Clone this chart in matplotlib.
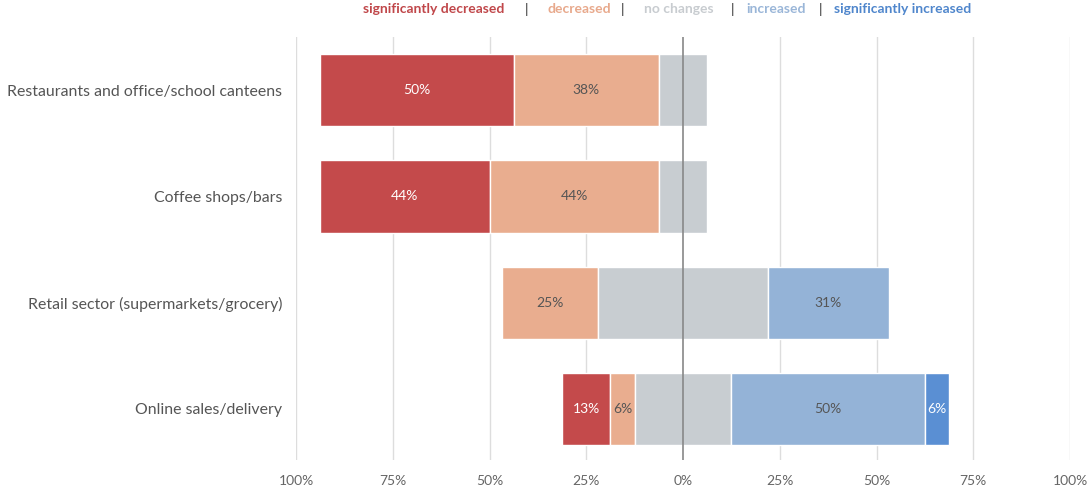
import matplotlib
matplotlib.use("Agg")
import matplotlib.pyplot as plt
import numpy as np

categories = ["Restaurants and office/school canteens", "Coffee shops/bars",
              "Retail sector (supermarkets/grocery)", "Online sales/delivery"]
responses = ["significantly decreased", "decreased", "no changes", "increased",
             "significantly increased"]
sig_decreased = [50, 43.75, 0, 12.5]
decreased = [37.5, 43.75, 25, 6.25]
no_changes = [12.5, 12.5, 43.75, 25]
increased = [0, 0, 31.25, 50]
sig_increased = [0, 0, 0, 6.25]
tick_values = [-100, -75, -50, -25, 0, 25, 50, 75, 100]
tick_labels = ["100%", "75%", "50%", "25%", "0%", "25%", "50%", "75%", "100%"]

bar_colors = ["#C44A4B", "#E9AD8F", "#C8CDD1", "#94B3D7", "#5A8FD3"]
legend_colors = ["#C0474A", "#E8A98C", "#C8CCD0", "#9AB6D8", "#4F86CC"]
label_colors = ["white", "#555555", "#555555", "#555555", "white"]

plt.rcParams['font.family'] = ['Lato', 'DejaVu Sans']

fig = plt.figure(figsize=(10.87, 4.88), dpi=100)
ax = fig.add_axes([296/1087, 28/488, 774/1087, 423/488])

series = [sig_decreased, decreased, no_changes, increased, sig_increased]
data = np.array(series).T  # rows: categories
y = np.arange(len(categories))
for i in range(len(categories)):
    row = data[i]
    left = -(row[0] + row[1] + row[2] / 2)
    for j, v in enumerate(row):
        if v > 0:
            ax.barh(y[i], v, left=left, height=0.68, color=bar_colors[j],
                    edgecolor="white", linewidth=1, zorder=2)
            if j != 2:
                ax.text(left + v / 2, y[i], f"{int(v + 0.5)}%", ha="center",
                        va="center", color=label_colors[j], fontsize=10, zorder=4)
        left += v

ax.set_xlim(-100, 100)
ax.set_ylim(3.48, -0.5)
ax.set_yticks(y)
ax.set_yticklabels(categories, fontsize=11.4, color="#555555")
ax.set_xticks(tick_values)
ax.set_xticklabels(tick_labels, fontsize=10, color="#666666")
ax.tick_params(axis="both", length=0)
ax.tick_params(axis="y", pad=10)
ax.tick_params(axis="x", pad=11)
for s in ax.spines.values():
    s.set_visible(False)
for t in tick_values:
    if t == 0:
        ax.axvline(t, color="#888888", linewidth=1.2, zorder=3)
    else:
        ax.axvline(t, color="#DDDDDD", linewidth=1, zorder=1)

# legend as colored text
legend_x = [434, 579, 679, 776, 903]
sep_x = [527, 622, 733, 821]
for name, xp, c in zip(responses, legend_x, legend_colors):
    fig.text(xp / 1087, 1 - 9 / 488, name, color=c, fontsize=10, fontweight="bold",
             ha="center", va="center")
for xp in sep_x:
    fig.text(xp / 1087, 1 - 9 / 488, "|", color="#333333", fontsize=10,
             ha="center", va="center")

fig.savefig("out.png", dpi=100)
